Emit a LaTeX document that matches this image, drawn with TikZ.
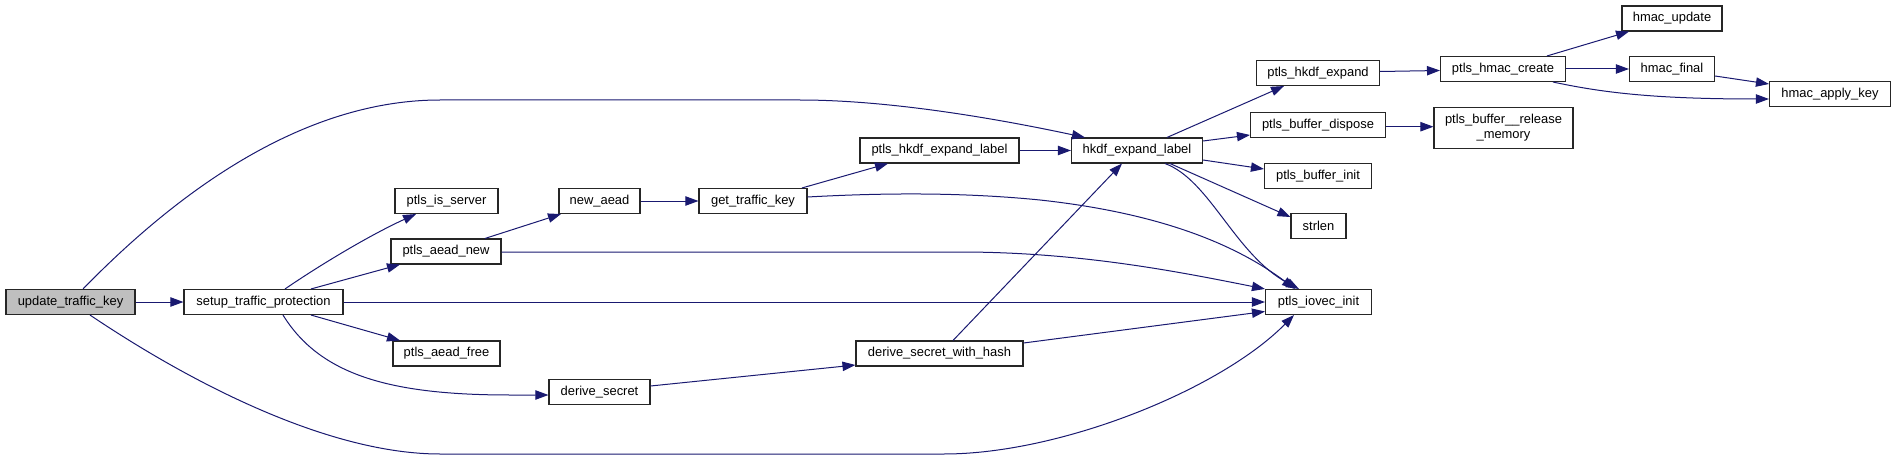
\documentclass[tikz,border=0pt]{standalone}
\usepackage{fontspec}
\setmainfont{Liberation Sans}
\usetikzlibrary{arrows.meta}
\definecolor{mblue}{HTML}{191970}
\definecolor{upgray}{HTML}{BFBFBF}
\newcommand\dxfont{\fontsize{9.7pt}{11.2pt}\selectfont}
\begin{document}
\begin{tikzpicture}[x=0.75pt,y=-0.75pt,
  box/.style={draw=black!85, line width=0.8pt, fill=white, minimum height=18.75pt, inner sep=0pt, font=\dxfont, align=center},
  edge/.style={draw=mblue, line width=0.75pt, -{Triangle[length=9.75pt,width=7pt]}, fill=none},
]
\useasboundingbox (0,0) rectangle (1896,460);
% nodes
\node[box, minimum width=129*0.75pt, fill=upgray] (upd) at (70.5,302) {update\_traffic\_key};
\node[box, minimum width=159*0.75pt] (setup) at (263.5,302) {setup\_traffic\_protection};
\node[box, minimum width=103*0.75pt] (isserver) at (446.5,201) {ptls\_is\_server};
\node[box, minimum width=110*0.75pt] (aeadnew) at (446,251.5) {ptls\_aead\_new};
\node[box, minimum width=107*0.75pt] (aeadfree) at (446.5,353.5) {ptls\_aead\_free};
\node[box, minimum width=101*0.75pt] (dsecret) at (599.5,391.7) {derive\_secret};
\node[box, minimum width=81*0.75pt] (newaead) at (599.5,201) {new\_aead};
\node[box, minimum width=108*0.75pt] (gettk) at (753,201) {get\_traffic\_key};
\node[box, minimum width=159*0.75pt] (hkdfel) at (939.5,150.5) {ptls\_hkdf\_expand\_label};
\node[box, minimum width=167*0.75pt] (dswh) at (939.5,353.5) {derive\_secret\_with\_hash};
\node[box, minimum width=131*0.75pt] (hkdf) at (1137,150.5) {hkdf\_expand\_label};
\node[box, minimum width=123*0.75pt] (hkdfexp) at (1318,73) {ptls\_hkdf\_expand};
\node[box, minimum width=135*0.75pt] (bufdisp) at (1318,125) {ptls\_buffer\_dispose};
\node[box, minimum width=107*0.75pt] (bufinit) at (1318,176) {ptls\_buffer\_init};
\node[box, minimum width=55*0.75pt] (strlen) at (1318.5,226) {strlen};
\node[box, minimum width=106*0.75pt] (iovec) at (1318.5,302) {ptls\_iovec\_init};
\node[box, minimum width=125*0.75pt] (hmaccreate) at (1503,69) {ptls\_hmac\_create};
\node[box, minimum width=139*0.75pt, minimum height=41*0.75pt] (release) at (1503.5,127.7) {ptls\_buffer\_\_release\\\_memory};
\node[box, minimum width=100*0.75pt] (hmacupdate) at (1672,18.5) {hmac\_update};
\node[box, minimum width=85*0.75pt] (hmacfinal) at (1672,69) {hmac\_final};
\node[box, minimum width=121*0.75pt] (hmacapply) at (1830,94) {hmac\_apply\_key};
% edges
\draw[edge] (upd.east) -- (setup.west);
\draw[edge] (83,0 |- upd.north) .. controls (160,210) and (290,100) .. (440,100) -- (800,100) .. controls (880,100) and (980,115) .. (1085,0 |- hkdf.north);
\draw[edge] (90,0 |- upd.south) .. controls (194,385) and (330,454) .. (440,454) -- (944,454) .. controls (1060,454) and (1220,390) .. (1294,0 |- iovec.south);
\draw[edge] (285,0 |- setup.north) .. controls (320,265) and (370,235) .. (416,0 |- isserver.south);
\draw[edge] (311,0 |- setup.north) -- (400,0 |- aeadnew.south);
\draw[edge] (setup.east) -- (iovec.west);
\draw[edge] (311,0 |- setup.south) -- (400,0 |- aeadfree.north);
\draw[edge] (283,0 |- setup.south) .. controls (320,375) and (390,395) .. (510,395) -- (dsecret.west |- 0,395);
\draw[edge] (485,0 |- aeadnew.north) -- (561,0 |- newaead.south);
\draw[edge] (aeadnew.east |- 0,252) -- (960,252) .. controls (1080,252) and (1180,272) .. (iovec.north west);
\draw[edge] (newaead.east) -- (gettk.west);
\draw[edge] (802,0 |- gettk.north) -- (888,0 |- hkdfel.south);
\draw[edge] (gettk.east |- 0,197) .. controls (880,193) and (960,192) .. (1040,200) .. controls (1150,212) and (1230,240) .. (1295,0 |- iovec.north);
\draw[edge] (hkdfel.east) -- (hkdf.west);
\draw[edge] (dsecret.east |- 0,386) -- (dswh.west |- 0,365);
\draw[edge] (953,0 |- dswh.north) -- (1122,0 |- hkdf.south);
\draw[edge] (dswh.east |- 0,343) -- (iovec.west |- 0,311.5);
\draw[edge] (1167,0 |- hkdf.north) -- (1284,0 |- hkdfexp.south);
\draw[edge] (hkdf.east |- 0,141) -- (bufdisp.west |- 0,135);
\draw[edge] (hkdf.east |- 0,160) -- (bufinit.west |- 0,169);
\draw[edge] (1170,0 |- hkdf.south) -- (strlen.west |- 0,217);
\draw[edge] (1165,0 |- hkdf.south) .. controls (1210,180) and (1235,255) .. (1299,0 |- iovec.north);
\draw[edge] (hkdfexp.east |- 0,71.5) -- (hmaccreate.west |- 0,70.5);
\draw[edge] (bufdisp.east |- 0,126.7) -- (release.west |- 0,126.7);
\draw[edge] (1547,0 |- hmaccreate.north) -- (1629,0 |- hmacupdate.south);
\draw[edge] (hmaccreate.east) -- (hmacfinal.west);
\draw[edge] (1553,0 |- hmaccreate.south) .. controls (1600,92) and (1650,99) .. (hmacapply.west |- 0,99);
\draw[edge] (hmacfinal.east |- 0,76) -- (hmacapply.west |- 0,84);
\end{tikzpicture}
\end{document}
